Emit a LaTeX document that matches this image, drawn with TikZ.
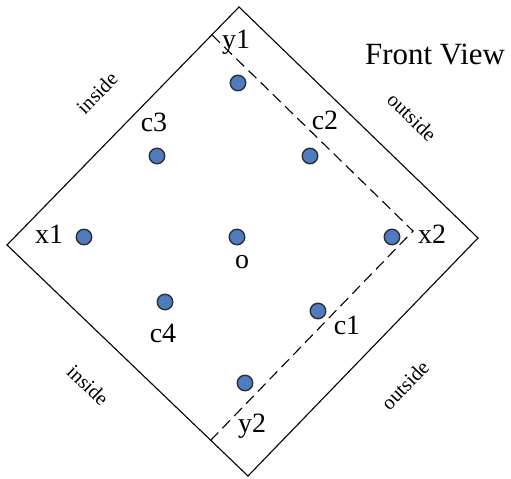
\documentclass[tikz,border=0pt]{standalone}
\usepackage{fontspec}
\setmainfont{Liberation Serif}
\definecolor{dotblue}{RGB}{79,124,190}
\definecolor{dotrim}{RGB}{45,45,50}
\begin{document}
\begin{tikzpicture}[x=1bp,y=-1bp,
  dot/.style={circle,draw=dotrim,line width=1.4bp,fill=dotblue,minimum size=15.5bp,inner sep=0pt},
  lbl/.style={anchor=base,inner sep=0pt,font=\fontsize{28}{28}\selectfont},
  title/.style={anchor=base west,inner sep=0pt,font=\fontsize{31}{31}\selectfont},
  side/.style={inner sep=0pt,font=\fontsize{20.5}{20.5}\selectfont},
  border/.style={line width=1.1bp,line join=miter},
  dashline/.style={line width=1.1bp,dash pattern=on 11bp off 6bp}]
\useasboundingbox (0,0) rectangle (511,479);
% diamond vertices
\coordinate (T) at (239,7);
\coordinate (R) at (478,238);
\coordinate (B) at (248,476);
\coordinate (L) at (7,245);
\draw[border] (T) -- (R) -- (B) -- (L) -- cycle;
% dashed boundary
\coordinate (DA) at (212,35);
\coordinate (DB) at (413,231);
\coordinate (DC) at (211,440);
\draw[dashline] (DA) -- (DB) -- (DC);
% points
\node[dot] (py1) at (238,83) {};
\node[dot] (pc3) at (157,156) {};
\node[dot] (pc2) at (310,156) {};
\node[dot] (px1) at (84,237) {};
\node[dot] (po) at (237,237) {};
\node[dot] (px2) at (392,237) {};
\node[dot] (pc4) at (165,302) {};
\node[dot] (pc1) at (318,311) {};
\node[dot] (py2) at (245,383) {};
% labels
\node[lbl] (ly1) at (236,49) {y1};
\node[lbl] (lc3) at (154,132) {c3};
\node[lbl] (lc2) at (325,130) {c2};
\node[lbl] (lx1) at (49,243) {x1};
\node[lbl] (lo) at (242,268) {o};
\node[lbl] (lx2) at (432,243) {x2};
\node[lbl] (lc4) at (163,342) {c4};
\node[lbl] (lc1) at (347,334) {c1};
\node[lbl] (ly2) at (252,432) {y2};
\node[title] (ttl) at (365,65) {Front View};
% side labels
\node[side,rotate=45.5] (s1) at (97,93) {inside};
\node[side,rotate=-44] (s2) at (412,117) {outside};
\node[side,rotate=-44] (s3) at (88,385) {inside};
\node[side,rotate=46] (s4) at (405,385) {outside};
\end{tikzpicture}
\end{document}
